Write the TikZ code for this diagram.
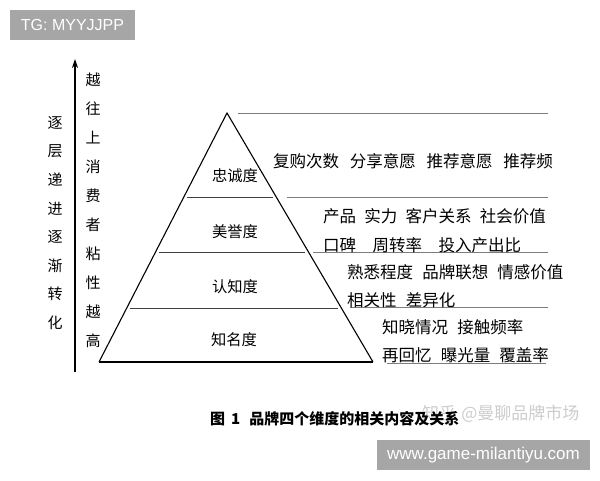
\documentclass[tikz,border=0pt]{standalone}
\usepackage{fontspec}
\setmainfont{Liberation Sans}
\newfontfamily\cjk{Noto Sans CJK SC}
\usetikzlibrary{arrows.meta,positioning,calc}
\definecolor{markgray}{RGB}{166,166,166}
\definecolor{rulegray}{RGB}{125,125,125}
\definecolor{faintgray}{RGB}{205,205,205}

\begin{document}
\begin{tikzpicture}[x=1pt, y=-1pt,
            level/.style={font=\cjk\fontsize{15.3}{15}\selectfont, inner sep=0pt},
            item/.style={font=\cjk\fontsize{16.5}{16}\selectfont, inner sep=0pt, anchor=west},
            column/.style={font=\cjk\fontsize{15}{29}\selectfont, align=center, inner sep=0pt},
            rule/.style={draw=rulegray, line width=0.8pt},
            edge/.style={draw=black, line width=1.1pt},
            arrow/.style={-{Stealth[length=9pt,width=6pt]}, line width=1.1pt},
            tag/.style={fill=markgray, text=white, inner sep=0pt, minimum height=30pt}
        ]
        \useasboundingbox[fill=white] (0,0) rectangle (600,480);
        
        \node[tag, minimum width=125pt, font=\fontsize{16}{16}\selectfont] (tg) at (72.5,25) {TG: MYYJJPP};
        
        % left arrow and columns
        \coordinate (low) at (75,372);
        \coordinate (high) at (75,59);
        \draw[arrow] (low) -- (high);
        \node[column] (sticky) at (93,210.5) {越\\往\\上\\消\\费\\者\\粘\\性\\越\\高};
        \node[column, font=\cjk\fontsize{15}{28.6}\selectfont] (gradual) at (55,223) {逐\\层\\递\\进\\逐\\渐\\转\\化};
        
        % pyramid
        \coordinate (apex) at (227,113);
        \coordinate (bl) at (99,362);
        \coordinate (br) at (373,362);
        \draw[edge] (bl) -- (apex) -- (br);
        \draw[line width=1.4pt] (bl) -- (br);
        \foreach \t in {0.337,0.558,0.783}
            \draw[draw=black!75, line width=0.8pt, shorten <=3pt, shorten >=3pt] ($(apex)!\t!(bl)$) -- ($(apex)!\t!(br)$);
        
        \node[level] (loyalty) at (235,176) {忠诚度};
        \node[level] (repute) at (235,232) {美誉度};
        \node[level] (cognition) at (235,287) {认知度};
        \node[level] (awareness) at (234,340) {知名度};
        
        % rules on the right
        \draw[rule] (238,113) -- (548,113);
        \draw[rule] (287,197) -- (548,197);
        \draw[rule] (313,252) -- (548,252);
        \draw[rule] (350,307) -- (548,307);
        \draw[rule] (387,363) -- (546,363);
        
        \node[item] (loyal1) at (273,161) {复购次数\hspace{0.65em}分享意愿\hspace{0.65em}推荐意愿\hspace{0.65em}推荐频};
        \node[item] (rep1) at (323,216) {产品\hspace{0.5em}实力\hspace{0.5em}客户关系\hspace{0.5em}社会价值};
        \node[item, below=29pt of rep1.west, anchor=west] (rep2) {口碑\hspace{1em}周转率\hspace{1em}投入产出比};
        \node[item] (cog1) at (347,272) {熟悉程度\hspace{0.55em}品牌联想\hspace{0.55em}情感价值};
        \node[item, below=28pt of cog1.west, anchor=west] (cog2) {相关性\hspace{0.55em}差异化};
        \node[item] (aw1) at (382,327) {知晓情况\hspace{0.55em}接触频率};
        \node[item, below=28pt of aw1.west, anchor=west] (aw2) {再回忆\hspace{0.55em}曝光量\hspace{0.55em}覆盖率};
        
        % caption and marks
        \node[anchor=west, inner sep=0pt, text=faintgray, font=\cjk\fontsize{17}{17}\selectfont] (zhihu) at (422,414) {知乎\hspace{0.3em}@曼聊品牌市场};
        \node[anchor=west, inner sep=0pt, font=\cjk\bfseries\fontsize{15}{15}\selectfont] (caption) at (210,419) {图\hspace{0.4em}1\hspace{0.6em}品牌四个维度的相关内容及关系};
        \node[tag, minimum width=213pt, font=\fontsize{17}{17}\selectfont] (site) at (483.5,455) {www.game-milantiyu.com};
        \end{tikzpicture}
\end{document}
